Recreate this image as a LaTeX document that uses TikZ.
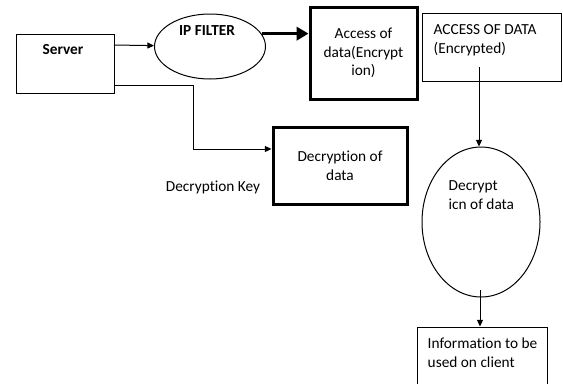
\documentclass[tikz,border=0pt]{standalone}
\usepackage{fontspec}
\setmainfont{Carlito}[Ligatures=NoCommon]
\usepackage{tikz}
\usetikzlibrary{positioning,arrows.meta,shapes.geometric,calc}

\begin{document}
\begin{tikzpicture}[x=0.75pt, y=-0.75pt,
    font=\fontsize{11.5}{14}\selectfont,
    box/.style={draw, line width=0.75pt, inner sep=0pt},
    boldbox/.style={draw, line width=2.25pt, inner sep=0pt},
    oval/.style={draw, ellipse, line width=0.75pt, inner sep=0pt},
    arr/.style={-{Triangle[length=5pt, width=4.5pt]}, line width=0.75pt},
    bigarr/.style={-{Triangle[length=9pt, width=10pt]}, line width=2.25pt}]
  \useasboundingbox (0,0) rectangle (563,383);
  \clip (0,0) rectangle (563,383);
  \fill[white] (0,0) rectangle (563,383);

  % shapes
  \node[box, minimum width=73.5pt, minimum height=44.25pt] (server) at (65,63.5) {};
  \node[oval, minimum width=83.25pt, minimum height=48.75pt] (ipfilter) at (210,46.5) {};
  \node[boldbox, minimum width=80.25pt, minimum height=69pt, align=center] (access) at (363.5,53)
    {Access of\\data(Encrypt\\ion)};
  \node[box, minimum width=104.25pt, minimum height=51pt] (accessenc) at (491.5,47) {};
  \node[boldbox, minimum width=100.5pt, minimum height=57.75pt, align=center] (decbox) at (340,165.5)
    {Decryption of\\data};
  \node[oval, minimum width=88.5pt, minimum height=112.5pt] (decell) at (481,222) {};
  \node[box, minimum width=97.5pt, minimum height=51pt] (info) at (482,361) {};

  % texts
  \node (servertxt) at (63,50) {\textbf{Server}};
  \node (filtertxt) at (207,31) {\textbf{IP FILTER}};
  \node[anchor=west, align=left] (enctxt) at (429,40) {ACCESS OF DATA\\(Encrypted)};
  \node (keytxt) at (213,187) {Decryption Key};
  \node[anchor=west, align=left] (decelltxt) at (444,195) {Decrypt\\icn of data};
  \node[anchor=west, align=left] (infotxt) at (423,352.5) {Information to be\\used on client};

  % connectors
  \coordinate (srvout) at (114,45);
  \coordinate (srvkey) at (114,85);
  \coordinate (keybend) at (193,149);
  \coordinate (encout) at (479,67);
  \coordinate (decout) at (480,290);

  \draw[arr] (srvout) -- (ipfilter);
  \draw[bigarr] (ipfilter.14) -- (access.west |- ipfilter.14);
  \draw[arr] (srvkey) -| (keybend) -- (keybend -| decbox.west);
  \draw[arr] (encout) -- (encout |- decell.north);
  \draw[arr] (decout) -- (decout |- info.north);
\end{tikzpicture}
\end{document}
